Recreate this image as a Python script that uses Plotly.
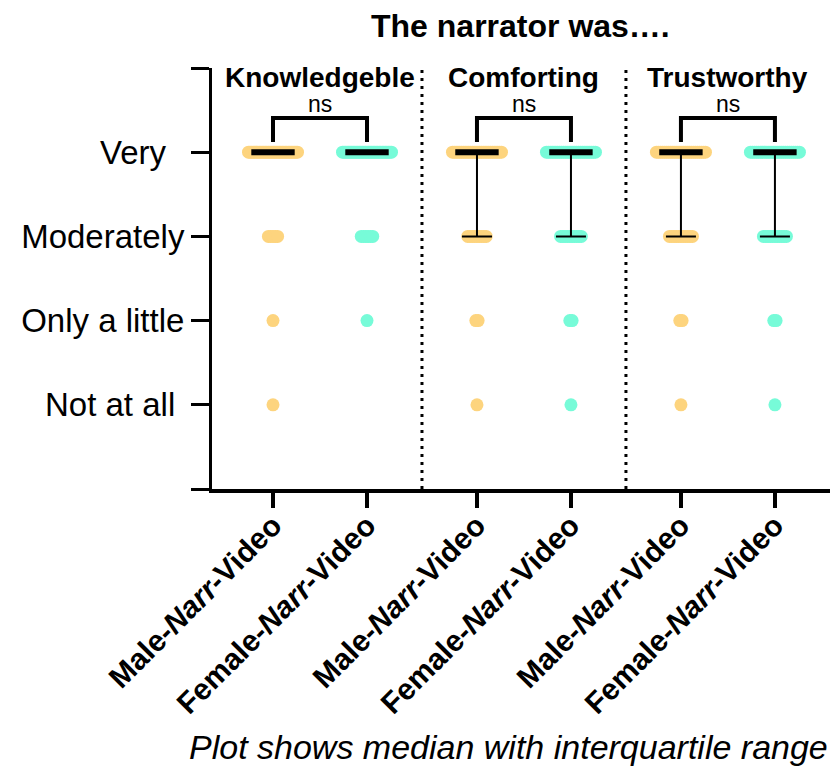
import numpy as np
import plotly.graph_objects as go

# ---------------- data ----------------
groups = ["Knowledgeble", "Comforting", "Trustworthy"]
conditions = ["Male-Narr-Video", "Female-Narr-Video"]
level_labels = ["Not at all", "Only a little", "Moderately", "Very"]
level_values = [1, 2, 3, 4]

# counts per response level, order: K-Male, K-Female, C-Male, C-Female, T-Male, T-Female
very = [33, 33, 28, 27, 26, 26]
moderately = [5, 6, 9, 10, 11, 11]
only_a_little = [1, 1, 2, 2, 2, 2]
not_at_all = [1, 0, 1, 1, 1, 1]

significance = ["ns", "ns", "ns"]
title_text = "The narrator was…."
footnote = "Plot shows median with interquartile range"

# ---------------- style ----------------
FONT = "Arial, 'Liberation Sans', sans-serif"
COLORS = ["#FDD47E", "#77FBD8"]
PAGE_OFF = 8  # default body margin of the page
W, H = 830, 762
ML, MR, MT = 204, 0, 60
PLOT_H = 421
MB = H - MT - PLOT_H
GROUP_STEP = 2.17
X_RANGE = [0.351, 7.011]
Y_RANGE = [0, 5]
plot_w = W - ML - MR
plot_h = PLOT_H
px_x = plot_w / (X_RANGE[1] - X_RANGE[0])
px_y = plot_h / (Y_RANGE[1] - Y_RANGE[0])
DOT_STEP_PX = 2.3
MAX_SPREAD_PX = 49

counts_by_level = {1: not_at_all, 2: only_a_little, 3: moderately, 4: very}

positions = []
for g in range(len(groups)):
    for m in range(len(conditions)):
        positions.append(1 + m + g * GROUP_STEP)

fig = go.Figure()

# dots
for idx, xc in enumerate(positions):
    m = idx % 2
    xs, ys = [], []
    for lv in level_values:
        n = counts_by_level[lv][idx]
        if n == 0:
            continue
        step = DOT_STEP_PX if n < 2 else min(DOT_STEP_PX, MAX_SPREAD_PX / (n - 1))
        for i in range(n):
            xs.append(xc + (i - (n - 1) / 2) * step / px_x)
            ys.append(lv)
    fig.add_trace(go.Scatter(x=xs, y=ys, mode="markers",
                             marker=dict(size=13, color=COLORS[m], line=dict(width=0)),
                             showlegend=False, hoverinfo="skip"))

# median + IQR
meds, q1s, q3s = [], [], []
for idx in range(len(positions)):
    resp = np.concatenate([np.full(counts_by_level[lv][idx], lv) for lv in level_values])
    meds.append(float(np.percentile(resp, 50)))
    q1s.append(float(np.percentile(resp, 25)))
    q3s.append(float(np.percentile(resp, 75)))

fig.add_trace(go.Scatter(
    x=positions, y=meds, mode="markers",
    marker=dict(symbol="line-ew", size=31, color="black", line=dict(width=6, color="black")),
    error_y=dict(type="data", symmetric=False,
                 array=[q3 - md for q3, md in zip(q3s, meds)],
                 arrayminus=[md - q1 for md, q1 in zip(meds, q1s)],
                 thickness=2, width=15, color="black"),
    showlegend=False, hoverinfo="skip"))

shapes = []
annotations = []
# dividers
for g in range(len(groups) - 1):
    xd = (positions[2 * g + 1] + positions[2 * g + 2]) / 2
    shapes.append(dict(type="line", xref="x", yref="y", x0=xd, x1=xd, y0=Y_RANGE[0], y1=Y_RANGE[1],
                       line=dict(color="black", width=3, dash="3px,5px")))

# conversions from target page pixels
def py_to_y(py):
    return (MT + PLOT_H - (py - PAGE_OFF)) / px_y

def px_to_paper(px):
    return (px - PAGE_OFF - ML) / plot_w

def py_to_paper(py):
    return (MT + PLOT_H - (py - PAGE_OFF)) / plot_h

for g, name in enumerate(groups):
    x1, x2 = positions[2 * g], positions[2 * g + 1]
    yb, yt = py_to_y(142), py_to_y(118)
    shapes.append(dict(type="path", xref="x", yref="y",
                       path=f"M {x1},{yb} L {x1},{yt} L {x2},{yt} L {x2},{yb}",
                       line=dict(color="black", width=4)))
    annotations.append(dict(x=(x1 + x2) / 2, y=py_to_y(104), xref="x", yref="y",
                            xanchor="center", yanchor="middle",
                            text=significance[g], showarrow=False,
                            font=dict(size=23, color="black", family=FONT)))
    annotations.append(dict(x=(x1 + x2) / 2, y=py_to_y(77), xref="x", yref="y",
                            xanchor="center", yanchor="middle",
                            text=f"<b>{name}</b>", showarrow=False,
                            font=dict(size=28, color="black", family=FONT)))

annotations.append(dict(x=px_to_paper(520), y=py_to_paper(26), xref="paper", yref="paper",
                        xanchor="center", yanchor="middle",
                        text=f"<b>{title_text}</b>", showarrow=False,
                        font=dict(size=32, color="black", family=FONT)))
annotations.append(dict(x=px_to_paper(508), y=py_to_paper(747), xref="paper", yref="paper",
                        xanchor="center", yanchor="middle",
                        text=f"<i>{footnote}</i>", showarrow=False,
                        font=dict(size=34, color="black", family=FONT)))

x_ticktext = []
for g in range(len(groups)):
    for c in conditions:
        a, b, d = c.split("-")
        x_ticktext.append(f"<b>{a}-<i>{b}</i>-{d}</b>")

y_tickvals = [0] + level_values + [5]
y_ticktext = [""] + ["Not at all\u00a0", "Only a little", "Moderately", "Very\u00a0\u00a0"] + [""]

fig.update_layout(
    width=W, height=H,
    margin=dict(l=ML, r=MR, t=MT, b=MB, autoexpand=False),
    paper_bgcolor="white", plot_bgcolor="white",
    font=dict(family=FONT, color="black"),
    shapes=shapes, annotations=annotations,
    xaxis=dict(range=X_RANGE, tickvals=positions, ticktext=x_ticktext, tickangle=-45,
               ticks="outside", ticklen=15, tickwidth=4, tickcolor="black",
               ticklabelstandoff=-12,
               showline=True, linewidth=4, linecolor="black", showgrid=False, zeroline=False,
               tickfont=dict(size=30, color="black", family=FONT)),
    yaxis=dict(range=Y_RANGE, tickvals=y_tickvals, ticktext=y_ticktext,
               ticks="outside", ticklen=18, tickwidth=3, tickcolor="black",
               showline=True, linewidth=3, linecolor="black", showgrid=False, zeroline=False,
               tickfont=dict(size=33, color="black", family=FONT)),
)

fig.write_html("out.html")
